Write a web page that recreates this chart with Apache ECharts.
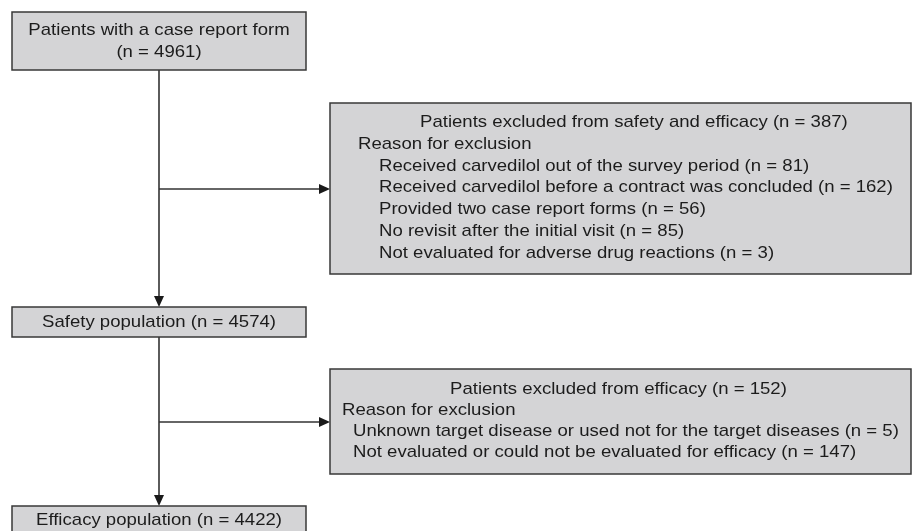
<!DOCTYPE html>
<html>
<head>
<meta charset="utf-8">
<script src="https://cdn.jsdelivr.net/npm/echarts@6/dist/echarts.min.js"></script>
<style>
html,body{margin:0;padding:0;background:#fff;}
#chart{width:912px;height:531px;}
</style>
</head>
<body>
<div id="chart"></div>
<script>
// ---------- DATA ----------
const stageLabels = ['Patients with a case report form', 'Safety population', 'Efficacy population'];
const stageCounts = [4961, 4574, 4422];
const exclusionLabels = ['Patients excluded from safety and efficacy', 'Patients excluded from efficacy'];
const exclusionCounts = [387, 152];
const reasonHeading = 'Reason for exclusion';
const safetyReasons = [
  'Received carvedilol out of the survey period',
  'Received carvedilol before a contract was concluded',
  'Provided two case report forms',
  'No revisit after the initial visit',
  'Not evaluated for adverse drug reactions'
];
const safetyReasonCounts = [81, 162, 56, 85, 3];
const efficacyReasons = [
  'Unknown target disease or used not for the target diseases',
  'Not evaluated or could not be evaluated for efficacy'
];
const efficacyReasonCounts = [5, 147];

// ---------- LAYOUT (canvas units, mapped through hidden value axes) ----------
const W = 912, H = 531;
const stageLayout = [
  { x0: 12, x1: 306, y0: 12, y1: 70, lines: [30.5, 52], cx: 159 },
  { x0: 12, x1: 306, y0: 307, y1: 337, lines: [322.5], cx: 159 },
  { x0: 12, x1: 306, y0: 506, y1: 545, lines: [520.5], cx: 159 }
];
const exclusionLayout = [
  { x0: 330, x1: 911, y0: 103, y1: 274, titleX: 420, titleY: 122.5, headX: 358, headY: 144, itemX: 379, itemY: 166, step: 21.8 },
  { x0: 330, x1: 911, y0: 369, y1: 474, titleX: 450, titleY: 389.5, headX: 342, headY: 410.5, itemX: 353, itemY: 431.5, step: 21 }
];
const connectorLayout = [
  { pts: [[159, 70], [159, 307]], arrow: true },
  { pts: [[159, 189], [330, 189]], arrow: true },
  { pts: [[159, 337], [159, 506]], arrow: true },
  { pts: [[159, 422], [330, 422]], arrow: true }
];

const FONT_SIZE = 17;
const SCALE_X = 1.093;
const TEXT_COLOR = '#1c1c1c';
const BOX_FILL = '#d4d4d6';
const BOX_STROKE = '#383838';
const LINE_COLOR = '#333333';

function fmtN(n) { return '(n = ' + n + ')'; }

function textEl(api, x, y, text, align) {
  const p = api.coord([x, y]);
  return {
    type: 'text',
    x: p[0], y: p[1],
    scaleX: SCALE_X,
    style: {
      text: text, x: 0, y: 0,
      fill: TEXT_COLOR,
      fontSize: FONT_SIZE,
      fontFamily: '"Liberation Sans", Arial, Helvetica, sans-serif',
      align: align, verticalAlign: 'middle'
    }
  };
}
function rectEl(api, L) {
  const a = api.coord([L.x0, L.y0]);
  const b = api.coord([L.x1, L.y1]);
  return {
    type: 'rect',
    shape: { x: a[0], y: a[1], width: b[0] - a[0], height: b[1] - a[1] },
    style: { fill: BOX_FILL, stroke: BOX_STROKE, lineWidth: 1.5 }
  };
}

function renderStage(params, api) {
  const i = api.value(0);
  const L = stageLayout[i];
  const children = [rectEl(api, L)];
  if (L.lines.length === 2) {
    children.push(textEl(api, L.cx, L.lines[0], stageLabels[i], 'center'));
    children.push(textEl(api, L.cx, L.lines[1], fmtN(stageCounts[i]), 'center'));
  } else {
    children.push(textEl(api, L.cx, L.lines[0], stageLabels[i] + ' ' + fmtN(stageCounts[i]), 'center'));
  }
  return { type: 'group', children: children };
}

function renderExclusion(params, api) {
  const i = api.value(0);
  const L = exclusionLayout[i];
  const reasons = i === 0 ? safetyReasons : efficacyReasons;
  const counts = i === 0 ? safetyReasonCounts : efficacyReasonCounts;
  const children = [rectEl(api, L)];
  children.push(textEl(api, L.titleX, L.titleY, exclusionLabels[i] + ' ' + fmtN(exclusionCounts[i]), 'left'));
  children.push(textEl(api, L.headX, L.headY, reasonHeading, 'left'));
  reasons.forEach(function (r, k) {
    children.push(textEl(api, L.itemX, L.itemY + k * L.step, r + ' ' + fmtN(counts[k]), 'left'));
  });
  return { type: 'group', children: children };
}

function renderConnector(params, api) {
  const i = api.value(0);
  const C = connectorLayout[i];
  const pts = C.pts.map(function (q) { return api.coord(q); });
  const children = [];
  const s = pts[0], e = pts[pts.length - 1];
  const dx = e[0] - s[0], dy = e[1] - s[1];
  const len = Math.sqrt(dx * dx + dy * dy);
  const ux = dx / len, uy = dy / len;
  const AL = 11, AW = 5;
  const base = [e[0] - ux * AL, e[1] - uy * AL];
  children.push({
    type: 'line',
    shape: { x1: s[0], y1: s[1], x2: base[0], y2: base[1] },
    style: { stroke: LINE_COLOR, lineWidth: 1.6 }
  });
  if (C.arrow) {
    children.push({
      type: 'polygon',
      shape: { points: [[e[0], e[1]], [base[0] - uy * AW, base[1] + ux * AW], [base[0] + uy * AW, base[1] - ux * AW]] },
      style: { fill: '#1a1a1a' }
    });
  }
  return { type: 'group', children: children };
}

const chart = echarts.init(document.getElementById('chart'), null, { renderer: 'canvas' });
chart.setOption({
  animation: false,
  backgroundColor: '#ffffff',
  grid: { left: 0, right: 0, top: 0, bottom: 0 },
  xAxis: { type: 'value', min: 0, max: W, show: false },
  yAxis: { type: 'value', min: 0, max: H, inverse: true, show: false },
  series: [
    { type: 'custom', renderItem: renderConnector, data: connectorLayout.map(function (_, i) { return [i]; }), clip: true, silent: true },
    { type: 'custom', renderItem: renderStage, data: stageLabels.map(function (_, i) { return [i]; }), clip: true, silent: true },
    { type: 'custom', renderItem: renderExclusion, data: exclusionLabels.map(function (_, i) { return [i]; }), clip: true, silent: true }
  ]
});
</script>
</body>
</html>
